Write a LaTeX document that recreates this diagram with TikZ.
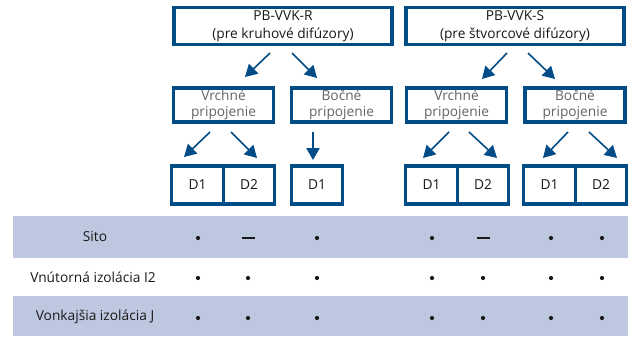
\documentclass[tikz,border=0pt]{standalone}
\usepackage{fontspec}
\setmainfont{Open Sans}
\usetikzlibrary{calc,arrows.meta}
\definecolor{kblue}{RGB}{0,76,135}
\definecolor{kfill}{RGB}{190,199,224}
\definecolor{ktext}{RGB}{25,25,25}
\definecolor{kgray}{RGB}{100,100,100}
\tikzset{
  topbox/.style={draw=kblue, line width=2.5pt, minimum width=163.5pt, minimum height=27.75pt,
    inner sep=0pt, outer sep=0pt, align=center, text=ktext, font=\fontsize{10.3}{13.2}\selectfont},
  midbox/.style={draw=kblue, line width=2.5pt, minimum width=75pt, minimum height=25.5pt,
    inner sep=0pt, outer sep=0pt, align=center, text=kgray, font=\fontsize{10.3}{12.2}\selectfont},
  cellbox/.style={draw=kblue, line width=2.5pt, minimum width=38.6pt, minimum height=28.5pt,
    inner sep=0pt, outer sep=0pt, text=ktext, font=\fontsize{10.3}{12}\selectfont},
  rowlabel/.style={text=ktext, font=\fontsize{10.3}{12}\selectfont},
  arr/.style={draw=kblue, line width=1.2pt, -{Triangle[length=9pt,width=10pt]}},
}
\def\dotmark(#1,#2){\fill[ktext] (#1,#2) circle (2.1);}
\def\dashmark(#1,#2){\draw[ktext, line width=1.4pt] (#1-6.5,#2) -- (#1+6.5,#2);}

\begin{document}
\begin{tikzpicture}[x=0.75pt, y=-0.75pt]
	\useasboundingbox (0,0) rectangle (628,336);
	
	%%%%% TABLE BACKGROUND %%%%%
	\fill[kfill] (13,216) rectangle (628,258);
	\fill[kfill] (13,296) rectangle (628,336);
	
	%%%%% TOP BOXES %%%%%
	\node[topbox] (r) at (283,26) {PB-VVK-R\\(pre kruhové difúzory)};
	\node[topbox] (s) at (515,26) {PB-VVK-S\\(pre štvorcové difúzory)};
	
	\node[midbox] (rv) at (223.5,105) {Vrchné\\pripojenie};
	\node[midbox] (rb) at (341.5,105) {Bočné\\pripojenie};
	\node[midbox] (sv) at (456.5,105) {Vrchné\\pripojenie};
	\node[midbox] (sb) at (575,105) {Bočné\\pripojenie};
	
	\node[cellbox] (rd1) at (197.5,185) {D1};
	\node[cellbox] (rd2) at (249,185) {D2};
	\node[cellbox] (rbd1) at (317,185) {D1};
	\node[cellbox] (sd1) at (431.5,185) {D1};
	\node[cellbox] (sd2) at (483,185) {D2};
	\node[cellbox] (sbd1) at (549.5,185) {D1};
	\node[cellbox] (sbd2) at (601,185) {D2};
	
	%%%%% ARROWS %%%%%
	\draw[arr] ($(r.south)+(-13,8.5)$) -- ($(rv.north)+(21.5,-11)$);
	\draw[arr] ($(r.south)+(9,8.5)$) -- ($(rb.north)+(-24.5,-10)$);
	\draw[arr] ($(s.south)+(-8,8.5)$) -- ($(sv.north)+(25.5,-9)$);
	\draw[arr] ($(s.south)+(13,8.5)$) -- ($(sb.north)+(-20,-9)$);
	
	\draw[arr] ($(rv.south)+(-13.5,10)$) -- ($(rd1.north)+(-13.5,-9)$);
	\draw[arr] ($(rv.south)+(7.5,10)$) -- ($(rd2.north)+(8,-8)$);
	\draw[arr] ($(rb.south)+(-28.5,10)$) -- ($(rbd1.north)+(-4,-6)$);
	\draw[arr] ($(sv.south)+(-7.5,10)$) -- ($(sd1.north)+(-8.5,-8)$);
	\draw[arr] ($(sv.south)+(12.5,10)$) -- ($(sd2.north)+(14,-8)$);
	\draw[arr] ($(sb.south)+(-7,10)$) -- ($(sbd1.north)+(-6.5,-8)$);
	\draw[arr] ($(sb.south)+(14,10)$) -- ($(sbd2.north)+(16,-8)$);
	
	%%%%% TABLE %%%%%
	\node[rowlabel] (sito) at (95,237) {Sito};
	\node[rowlabel] (vnut) at (93,277) {Vnútorná izolácia I2};
	\node[rowlabel] (vonk) at (95,317) {Vonkajšia izolácia J};
	
	\dotmark(198,238) \dashmark(248,238) \dotmark(317,238)
	\dotmark(432,238) \dashmark(483,238) \dotmark(551,238) \dotmark(602,238)
	
	\dotmark(198,278) \dotmark(248,278) \dotmark(317,278)
	\dotmark(432,278) \dotmark(483,278) \dotmark(551,278) \dotmark(602,278)
	
	\dotmark(198,318) \dotmark(248,318) \dotmark(317,318)
	\dotmark(432,318) \dotmark(483,318) \dotmark(551,318) \dotmark(602,318)
\end{tikzpicture}
\end{document}
